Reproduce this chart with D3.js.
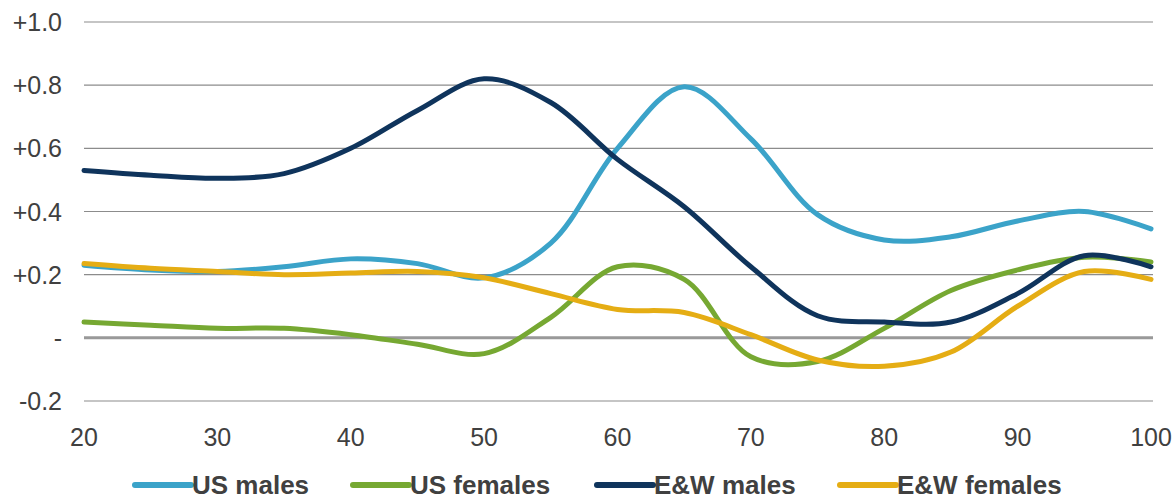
<!DOCTYPE html>
<html>
<head>
<meta charset="utf-8">
<script src="https://cdn.jsdelivr.net/npm/d3@7"></script>
<style>
  body { margin: 0; background: #fff; }
  svg text { font-family: "Liberation Sans", Arial, sans-serif; fill: #404040; }
</style>
</head>
<body>
<div id="chart"></div>
<script>
// ages on the x axis
var ages = [20, 25, 30, 35, 40, 45, 50, 55, 60, 65, 70, 75, 80, 85, 90, 95, 100];

var usMales     = [0.23, 0.215, 0.21, 0.225, 0.25, 0.235, 0.19, 0.30, 0.60, 0.795, 0.63, 0.39, 0.31, 0.32, 0.37, 0.40, 0.345];
var usFemales   = [0.05, 0.04, 0.03, 0.03, 0.01, -0.02, -0.05, 0.065, 0.225, 0.185, -0.06, -0.075, 0.03, 0.15, 0.215, 0.255, 0.24];
var ewMales     = [0.53, 0.515, 0.505, 0.52, 0.60, 0.72, 0.82, 0.745, 0.565, 0.415, 0.225, 0.07, 0.05, 0.05, 0.14, 0.26, 0.225];
var ewFemales   = [0.235, 0.22, 0.21, 0.20, 0.205, 0.21, 0.19, 0.14, 0.09, 0.08, 0.01, -0.07, -0.09, -0.045, 0.10, 0.21, 0.185];

var seriesNames = ["US males", "US females", "E&W males", "E&W females"];
var seriesData  = [usMales, usFemales, ewMales, ewFemales];
var colors      = ["#3ba3c9", "#76a832", "#0f345c", "#e5ad14"];

var xTicks = [20, 30, 40, 50, 60, 70, 80, 90, 100];
var yTicks = [-0.2, 0, 0.2, 0.4, 0.6, 0.8, 1.0];

var width = 1176, height = 499;
var margin = {top: 22, right: 25, bottom: 98, left: 84};

var svg = d3.select("#chart").append("svg")
    .attr("width", width)
    .attr("height", height);

var x = d3.scaleLinear().domain([20, 100]).range([margin.left, width - margin.right]);
var y = d3.scaleLinear().domain([-0.2, 1.0]).range([height - margin.bottom, margin.top]);

// gridlines
svg.append("g")
    .selectAll("line")
    .data(yTicks)
    .enter().append("line")
    .attr("x1", x(20))
    .attr("x2", x(100) + 2)
    .attr("y1", function (d) { return y(d); })
    .attr("y2", function (d) { return y(d); })
    .attr("stroke", function (d) { return d === 0 ? "#999" : "#8c8c8c"; })
    .attr("stroke-width", function (d) { return d === 0 ? 3 : 1.2; });

// y labels
svg.append("g")
    .selectAll("text")
    .data(yTicks)
    .enter().append("text")
    .attr("x", 62)
    .attr("y", function (d) { return y(d); })
    .attr("dy", "0.36em")
    .attr("text-anchor", "end")
    .style("font-size", "25px")
    .text(function (d) {
        if (d === 0) return "-";
        return (d > 0 ? "+" : "") + d.toFixed(1);
    });

// x labels
svg.append("g")
    .selectAll("text")
    .data(xTicks)
    .enter().append("text")
    .attr("x", function (d) { return x(d); })
    .attr("y", 446)
    .attr("text-anchor", "middle")
    .style("font-size", "25px")
    .text(function (d) { return d; });

var line = d3.line()
    .x(function (d, i) { return x(ages[i]); })
    .y(function (d) { return y(d); })
    .curve(d3.curveCatmullRom.alpha(0.5));

svg.append("g")
    .selectAll("path")
    .data(seriesData)
    .enter().append("path")
    .attr("d", line)
    .attr("fill", "none")
    .attr("stroke", function (d, i) { return colors[i]; })
    .attr("stroke-width", 5)
    .attr("stroke-linecap", "round");

// legend
var legendX = [135, 353, 597, 840];
var lg = svg.append("g").selectAll("g")
    .data(seriesNames)
    .enter().append("g")
    .attr("transform", function (d, i) { return "translate(" + legendX[i] + ",485)"; });

lg.append("line")
    .attr("x1", 0).attr("x2", 56)
    .attr("stroke", function (d, i) { return colors[i]; })
    .attr("stroke-width", 6)
    .attr("stroke-linecap", "round");

lg.append("text")
    .attr("x", 57)
    .attr("dy", "0.36em")
    .style("font-size", "26px")
    .style("font-weight", "bold")
    .text(function (d) { return d; });
</script>
</body>
</html>
